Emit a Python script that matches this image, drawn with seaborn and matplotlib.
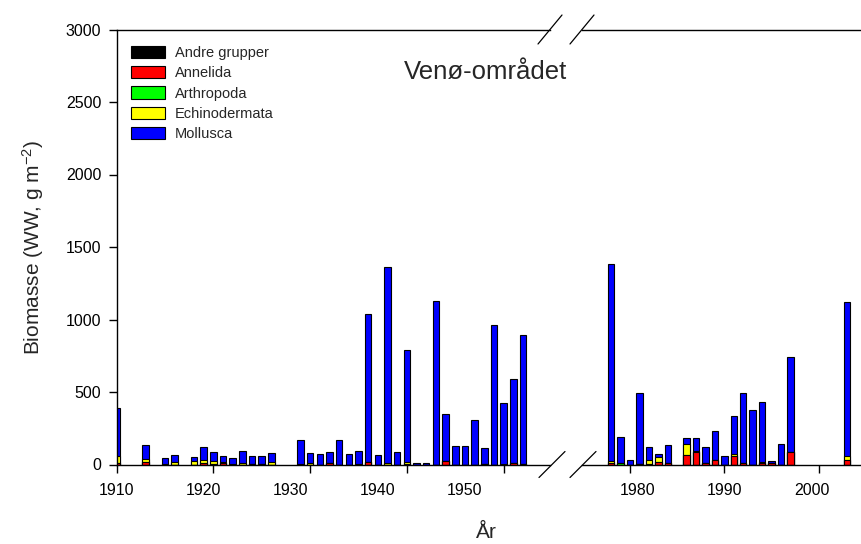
import matplotlib
matplotlib.use("Agg")
import matplotlib.pyplot as plt
import numpy as np
import pandas as pd
import seaborn as sns

# Sampling years (two survey periods with a gap between them)
years_early = [1910, 1913, 1915, 1916, 1918, 1919, 1920, 1921, 1922, 1923, 1924,
               1925, 1926, 1929, 1930, 1931, 1932, 1933, 1934, 1935, 1936, 1937,
               1938, 1939, 1940, 1941, 1942, 1943, 1944, 1945, 1946, 1947, 1948,
               1949, 1950, 1951, 1952]
years_late = [1978, 1979, 1980, 1981, 1982, 1983, 1984, 1986, 1987, 1988, 1989,
              1990, 1991, 1992, 1993, 1994, 1995, 1996, 1997, 2003]

# Biomass per group (g WW m-2), early period then late period
andre_grupper = [0] * 37 + [0, 0, 0, 4, 0, 0, 0, 0, 0, 0, 0, 0, 0, 0, 0, 0, 0, 0, 0, 0]
annelida = [12, 18, 0, 0, 0, 12, 4, 12, 0, 0, 5, 4, 0, 0, 0, 0, 8, 0, 0, 0, 14, 0,
            0, 0, 4, 0, 0, 0, 22, 0, 0, 0, 6, 0, 0, 8, 6] + \
           [8, 0, 0, 0, 6, 18, 10, 65, 86, 10, 32, 0, 62, 10, 0, 9, 12, 0, 88, 32]
arthropoda = [0] * 37 + [0, 12, 0, 0, 0, 0, 0, 0, 0, 0, 0, 0, 0, 0, 0, 0, 0, 0, 0, 0]
echinodermata = [48, 18, 4, 16, 26, 22, 22, 6, 4, 8, 0, 2, 14, 6, 8, 0, 0, 0, 0, 6,
                 6, 0, 8, 0, 14, 0, 0, 0, 0, 0, 0, 0, 0, 0, 4, 0, 0] + \
                [14, 0, 0, 0, 28, 37, 0, 78, 9, 0, 0, 0, 10, 0, 0, 9, 0, 0, 0, 28]
mollusca = [328, 101, 44, 48, 28, 89, 61, 41, 41, 86, 55, 54, 65, 162, 69, 73, 80,
            169, 73, 87, 1018, 65, 1352, 89, 770, 10, 10, 1128, 324, 126, 129, 307,
            107, 964, 419, 581, 884] + \
           [1358, 178, 31, 488, 85, 15, 127, 38, 89, 110, 197, 59, 265, 482, 377,
            412, 11, 142, 655, 1061]

groups = ["Andre grupper", "Annelida", "Arthropoda", "Echinodermata", "Mollusca"]
colors = ["#000000", "#ff0000", "#00ff00", "#ffff00", "#0000ff"]

# decade ticks and their labels for each axis segment
ticks_early = [1910, 1920, 1930, 1940, 1950]
ticks_late = [1980, 1990, 2000]

years = years_early + years_late
wide = pd.DataFrame({"year": years,
                     "Andre grupper": andre_grupper,
                     "Annelida": annelida,
                     "Arthropoda": arthropoda,
                     "Echinodermata": echinodermata,
                     "Mollusca": mollusca})
# cumulative tops for stacking (bottom group first)
cum = wide[groups].cumsum(axis=1)
cum["year"] = wide["year"]

sns.set_theme(style="ticks")
plt.rcParams["font.family"] = ["Liberation Sans", "DejaVu Sans"]
plt.rcParams["mathtext.fontset"] = "custom"
plt.rcParams["mathtext.rm"] = "Liberation Sans"
plt.rcParams["mathtext.it"] = "Liberation Sans:italic"

W, H = 862, 544
fig = plt.figure(figsize=(W / 100, H / 100), dpi=100)
ybot = 1 - 464.5 / H
ytop = 1 - 29.5 / H
ax1 = fig.add_axes([116.7 / W, ybot, (550 - 116.7) / W, ytop - ybot])
ax2 = fig.add_axes([582 / W, ybot, (W - 582) / W, ytop - ybot])

# each segment: axes, years, x range, tick marks, label anchor and label spacing factor
segments = [(ax1, years_early, (1910, 1954.8), ticks_early, 1910, 0.90),
            (ax2, years_late, (1974.9, 2004.6), ticks_late, 1990, 0.925)]

for ax, yrs, xlim, xticks, anchor, squeeze in segments:
    sub = cum[cum["year"].isin(yrs)]
    # draw tallest cumulative layer first, each lower layer on top of it
    for g, c in reversed(list(zip(groups, colors))):
        sns.barplot(data=sub, x="year", y=g, native_scale=True, width=0.68,
                    color=c, saturation=1, edgecolor="black", linewidth=0.8,
                    ax=ax, errorbar=None, zorder=2)
    ax.set_xlim(*xlim)
    ax.set_ylim(0, 3000)
    # tick marks at the decades, the year labels on a tighter spacing
    ax.xaxis.remove_overlapping_locs = False
    ax.set_xticks(xticks)
    ax.set_xticklabels([""] * len(xticks))
    label_pos = [anchor + squeeze * (t - anchor) for t in xticks]
    ax.set_xticks(label_pos, labels=[str(t) for t in xticks], minor=True)
    ax.set_xlabel("")
    ax.set_ylabel("")
    ax.spines["right"].set_visible(False)
    for s in ["top", "bottom", "left"]:
        ax.spines[s].set_linewidth(1.0)
        ax.spines[s].set_color("black")
    ax.tick_params(axis="both", which="major", direction="out", length=6, width=1.0,
                   labelsize=11.5, color="black", labelcolor="black", pad=5)
    ax.tick_params(axis="x", which="minor", length=0, labelsize=11.5,
                   labelcolor="black", pad=13)

ax1.set_yticks(np.arange(0, 3001, 500))
ax1.tick_params(axis="y", which="minor", left=False)
ax2.spines["left"].set_visible(False)
ax2.tick_params(axis="y", which="both", left=False, labelleft=False)

ax1.set_ylabel("Biomasse (WW, g m$^{-2}$)", fontsize=15, labelpad=14)

# legend
handles = [plt.Rectangle((0, 0), 1, 1, facecolor=c, edgecolor="black", linewidth=0.8)
           for c in colors]
ax1.legend(handles, groups, loc="upper left", bbox_to_anchor=(0.034, 0.962),
           frameon=False, fontsize=10.5, handlelength=2.3, handleheight=0.9,
           labelspacing=0.42, handletextpad=0.7, borderpad=0, borderaxespad=0)

fig.text(486 / W, 1 - 72 / H, "Venø-området", ha="center", va="center", fontsize=18.5)
fig.text(486 / W, 1 - 532 / H, "År", ha="center", va="center", fontsize=15)

# break marks on the horizontal axis lines
def slash(xc, yc, dx, dy):
    fig.add_artist(plt.Line2D([(xc - dx) / W, (xc + dx) / W],
                              [1 - (yc + dy) / H, 1 - (yc - dy) / H],
                              color="black", linewidth=0.9))

for xc in (550, 582):
    slash(xc, 29.5, 12, 14.5)
for xc in (552, 583):
    slash(xc, 464.5, 13, 13)

fig.savefig("out.png", dpi=100)
